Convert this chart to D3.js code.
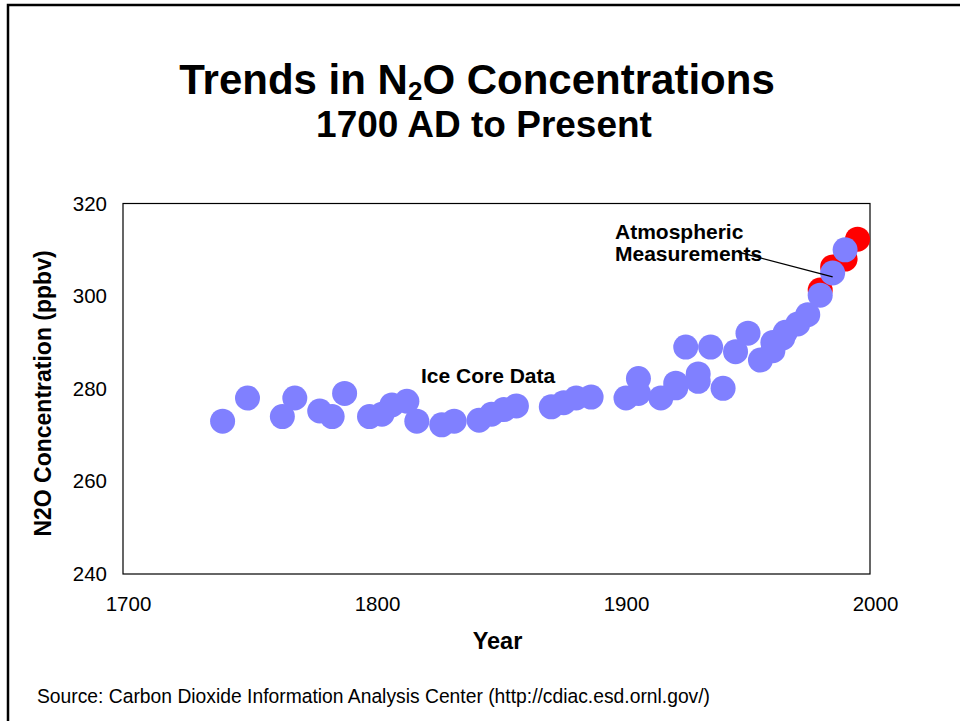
<!DOCTYPE html>
<html>
<head>
<meta charset="utf-8">
<script src="https://cdn.jsdelivr.net/npm/d3@7/dist/d3.min.js"></script>
<style>
  html, body { margin: 0; padding: 0; background: #fff; }
  svg { display: block; font-family: Arial, "Liberation Sans", sans-serif; }
</style>
</head>
<body>
<svg id="chart" width="960" height="721"></svg>
<script>
// Ice core record (year, N2O ppbv)
const iceYears  = [1740, 1750, 1764, 1769, 1779, 1784, 1789, 1799, 1804, 1808, 1814, 1818,
                   1828, 1833, 1843, 1848, 1853, 1858, 1872, 1877, 1882, 1888,
                   1902, 1907, 1907, 1916, 1922, 1922, 1926, 1931, 1931, 1936, 1941, 1946,
                   1951, 1956, 1961, 1961, 1965, 1966, 1971, 1975, 1980, 1985, 1990];
const iceValues = [273, 278, 274, 278, 275.2, 274, 279, 274, 274.5, 276.5, 277.3, 273,
                   272.2, 273, 273.2, 274.5, 275.5, 276.3, 276.1, 277, 278, 278.2,
                   278, 279, 282.2, 278, 280.2, 281.2, 289, 281.6, 283.2, 289, 280.1, 288,
                   292, 286.2, 288.2, 290, 291, 292.2, 294, 296, 300.2, 305, 310];

// Direct atmospheric measurements
const atmYears  = [1980, 1985, 1990, 1995];
const atmValues = [301.3, 306.3, 308, 312.3];

const xTicks = [1700, 1800, 1900, 2000];
const yTicks = [240, 260, 280, 300, 320];

const svg = d3.select("#chart");

// slide frame
svg.append("path")
  .attr("d", "M8,730 V5 H970")
  .attr("fill", "none").attr("stroke", "#000").attr("stroke-width", 2.5);

// titles
const title = svg.append("text")
  .attr("x", 477).attr("y", 94)
  .attr("text-anchor", "middle")
  .attr("font-size", 42).attr("font-weight", "bold");
title.append("tspan").text("Trends in N");
title.append("tspan").attr("font-size", 26).attr("dy", 6).text("2");
title.append("tspan").attr("dy", -6).text("O Concentrations");

svg.append("text")
  .attr("x", 484).attr("y", 137)
  .attr("text-anchor", "middle")
  .attr("font-size", 37).attr("font-weight", "bold")
  .text("1700 AD to Present");

const plotL = 123, plotR = 870, plotT = 203.5, plotB = 574;

const x = d3.scaleLinear().domain([1700, 2000]).range([plotL, plotR]);
const y = d3.scaleLinear().domain([240, 320]).range([plotB, plotT]);

// plot box
svg.append("rect")
  .attr("x", plotL).attr("y", plotT)
  .attr("width", plotR - plotL).attr("height", plotB - plotT)
  .attr("fill", "none").attr("stroke", "#000").attr("stroke-width", 1.2);

// axes
const yAxis = svg.append("g")
  .attr("transform", `translate(${plotL},0)`)
  .call(d3.axisLeft(y).tickValues(yTicks).tickSize(0).tickPadding(16).tickFormat(d3.format("d")));
const xAxis = svg.append("g")
  .attr("transform", `translate(0,${plotB})`)
  .call(d3.axisBottom(x).tickValues(xTicks).tickSize(0).tickPadding(22).tickFormat(d3.format("d")));
[yAxis, xAxis].forEach(g => {
  g.select(".domain").remove();
  g.selectAll("text").attr("font-size", 20.5).attr("fill", "#000")
    .attr("font-family", 'Arial, "Liberation Sans", sans-serif');
});
xAxis.selectAll("text").attr("dx", 5);

// axis titles
svg.append("text")
  .attr("x", 497.5).attr("y", 649)
  .attr("text-anchor", "middle")
  .attr("font-size", 23.5).attr("font-weight", "bold")
  .text("Year");

svg.append("text")
  .attr("transform", "translate(51,393.5) rotate(-90)")
  .attr("text-anchor", "middle")
  .attr("font-size", 23).attr("font-weight", "bold")
  .text("N2O Concentration (ppbv)");

// data points
const r = 12.5;
const atm = atmYears.map((yr, i) => ({ yr, v: atmValues[i] }));
const ice = iceYears.map((yr, i) => ({ yr, v: iceValues[i] }));

svg.append("g").selectAll("circle").data(atm).join("circle")
  .attr("cx", d => x(d.yr)).attr("cy", d => y(d.v)).attr("r", r)
  .attr("fill", "#ff0000");

svg.append("g").selectAll("circle").data(ice).join("circle")
  .attr("cx", d => x(d.yr)).attr("cy", d => y(d.v)).attr("r", r)
  .attr("fill", "#8080ff");

// annotations
svg.append("text")
  .attr("x", 421).attr("y", 383)
  .attr("font-size", 21).attr("font-weight", "bold")
  .text("Ice Core Data");

const atmLabel = svg.append("text")
  .attr("font-size", 21).attr("font-weight", "bold");
atmLabel.append("tspan").attr("x", 615).attr("y", 239).text("Atmospheric");
atmLabel.append("tspan").attr("x", 615).attr("y", 261).text("Measurements");

svg.append("line")
  .attr("x1", 738).attr("y1", 252)
  .attr("x2", x(1985)).attr("y2", y(305) + 4)
  .attr("stroke", "#000").attr("stroke-width", 1.3);

// source note
svg.append("text")
  .attr("x", 37).attr("y", 703)
  .attr("font-size", 19.3)
  .text("Source: Carbon Dioxide Information Analysis Center (http://cdiac.esd.ornl.gov/)");
</script>
</body>
</html>
